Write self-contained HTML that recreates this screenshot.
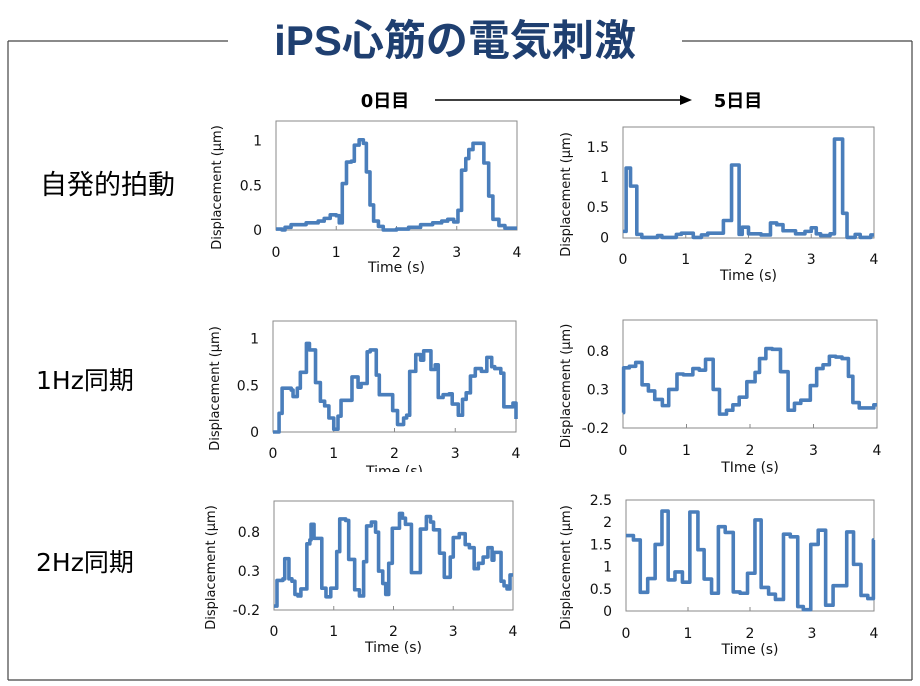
<!DOCTYPE html>
<html><head><meta charset="utf-8">
<style>
body{margin:0;background:#fff;width:920px;height:686px;overflow:hidden;font-family:"DejaVu Sans","Noto Sans CJK JP",sans-serif;}
svg{position:absolute;left:0;top:0}
</style></head>
<body>
<svg id="s" width="920" height="686">
  <line x1="8" y1="41" x2="228" y2="41" stroke="#444" stroke-width="1.2"/>
  <line x1="682" y1="41" x2="912" y2="41" stroke="#444" stroke-width="1.2"/>
  <line x1="8" y1="41" x2="8" y2="680" stroke="#444" stroke-width="1.2"/>
  <line x1="912" y1="41" x2="912" y2="680" stroke="#444" stroke-width="1.2"/>
  <line x1="8" y1="680" x2="912" y2="680" stroke="#444" stroke-width="1.2"/>
  <text x="455" y="55" text-anchor="middle" font-size="42" font-weight="bold" fill="#1f3f70" font-family="Liberation Sans, Noto Sans CJK JP, sans-serif">iPS心筋の電気刺激</text>
  <text x="385" y="107" text-anchor="middle" font-size="18" font-weight="bold">0日目</text>
  <line x1="435" y1="100" x2="682" y2="100" stroke="#000" stroke-width="1.5"/>
  <polygon points="692,100 680,95 680,105" fill="#000"/>
  <text x="738" y="107" text-anchor="middle" font-size="18" font-weight="bold">5日目</text>
  <text x="40" y="194" font-size="27">自発的拍動</text>
  <text x="36" y="389" font-size="25">1Hz同期</text>
  <text x="36" y="571" font-size="25">2Hz同期</text>
</svg>
<script>
// chart 1: spontaneous day 0
const c1T=[0,0.1,0.15,0.25,0.5,0.7,0.8,0.9,1.0,1.05,1.1,1.17,1.25,1.3,1.38,1.45,1.5,1.56,1.62,1.7,1.78,2.0,2.2,2.4,2.6,2.75,2.85,2.95,3.02,3.08,3.15,3.2,3.27,3.35,3.45,3.53,3.6,3.7,3.8,4.0];
const c1V=[0.01,0.0,0.03,0.06,0.08,0.1,0.13,0.17,0.16,0.08,0.52,0.76,0.77,0.95,1.01,0.97,0.65,0.28,0.1,0.04,0.0,0.01,0.03,0.06,0.08,0.1,0.12,0.09,0.22,0.67,0.8,0.9,0.97,0.97,0.75,0.38,0.12,0.05,0.02,0.02];
const c1Y=["0","0.5","1"];const c1Yv=[0,0.5,1];
// chart 2: spontaneous day 5
const c2T=[0,0.05,0.12,0.22,0.3,0.45,0.55,0.62,0.85,0.93,1.12,1.25,1.35,1.6,1.73,1.85,1.9,2.0,2.2,2.35,2.45,2.55,2.75,2.9,3.0,3.08,3.15,3.3,3.37,3.5,3.57,3.7,3.78,3.95,4.0];
const c2V=[0.1,1.15,0.85,0.05,0.0,0.0,0.03,0.0,0.05,0.07,0.0,0.04,0.07,0.28,1.2,0.05,0.17,0.06,0.04,0.24,0.21,0.11,0.06,0.1,0.16,0.06,0.03,0.06,1.63,0.4,0.0,0.05,0.0,0.04,0.04];
const c2Y=["0","0.5","1","1.5"];const c2Yv=[0,0.5,1,1.5];
// chart 3: 1Hz day 0
const c3T=[0,0.1,0.15,0.3,0.33,0.4,0.45,0.55,0.6,0.7,0.78,0.85,0.92,1.0,1.07,1.12,1.25,1.3,1.4,1.45,1.55,1.6,1.7,1.75,1.9,1.97,2.05,2.15,2.2,2.25,2.35,2.43,2.48,2.6,2.67,2.72,2.8,2.9,2.95,3.05,3.12,3.18,3.25,3.33,3.43,3.52,3.6,3.65,3.75,3.8,3.9,3.95,4.0];
const c3V=[0.0,0.2,0.47,0.45,0.38,0.47,0.64,0.95,0.88,0.53,0.33,0.28,0.15,0.03,0.17,0.34,0.34,0.59,0.48,0.52,0.86,0.88,0.61,0.4,0.4,0.23,0.08,0.15,0.18,0.65,0.83,0.77,0.87,0.67,0.72,0.37,0.4,0.41,0.3,0.18,0.35,0.42,0.6,0.68,0.65,0.8,0.7,0.68,0.63,0.27,0.27,0.31,0.14];
const c3Y=["0","0.5","1"];const c3Yv=[0,0.5,1];
// chart 4: 1Hz day 5
const c4T=[0,0.01,0.1,0.2,0.3,0.4,0.5,0.62,0.72,0.85,0.95,1.1,1.2,1.3,1.42,1.52,1.63,1.73,1.83,1.95,2.08,2.15,2.25,2.35,2.48,2.6,2.7,2.8,2.95,3.05,3.15,3.25,3.35,3.45,3.55,3.62,3.72,3.85,3.95,4.0];
const c4V=[0.0,0.58,0.6,0.65,0.36,0.28,0.17,0.09,0.3,0.5,0.49,0.57,0.55,0.69,0.3,-0.02,0.03,0.1,0.2,0.4,0.52,0.7,0.83,0.82,0.53,0.03,0.12,0.16,0.35,0.57,0.62,0.73,0.72,0.7,0.47,0.13,0.06,0.06,0.1,0.1];
const c4Y=["-0.2","0.3","0.8"];const c4Yv=[-0.2,0.3,0.8];
// chart 5: 2Hz day 0
const c5T=[0,0.05,0.15,0.18,0.25,0.3,0.35,0.4,0.45,0.55,0.6,0.62,0.67,0.8,0.87,0.95,1.05,1.1,1.2,1.25,1.35,1.43,1.5,1.55,1.63,1.7,1.75,1.82,1.87,1.92,1.98,2.1,2.15,2.2,2.3,2.4,2.45,2.55,2.62,2.67,2.77,2.85,2.95,3.0,3.1,3.2,3.27,3.35,3.42,3.5,3.58,3.65,3.68,3.75,3.8,3.85,3.9,3.95,4.0];
const c5V=[-0.15,0.18,0.2,0.46,0.2,0.17,0.0,-0.02,0.07,0.65,0.7,0.9,0.72,0.08,-0.03,0.08,0.55,0.97,0.95,0.45,0.06,-0.02,0.42,0.88,0.93,0.8,0.3,0.14,0.0,0.4,0.85,1.04,0.98,0.9,0.28,0.28,0.84,1.0,0.93,0.83,0.53,0.22,0.48,0.73,0.78,0.64,0.6,0.33,0.4,0.48,0.6,0.44,0.54,0.54,0.17,0.11,0.07,0.25,0.25];
const c5Y=["-0.2","0.3","0.8"];const c5Yv=[-0.2,0.3,0.8];
// chart 6: 2Hz day 5
const c6T=[0,0.12,0.23,0.35,0.47,0.58,0.68,0.79,0.91,1.03,1.16,1.26,1.38,1.49,1.6,1.73,1.84,1.96,2.08,2.18,2.3,2.41,2.54,2.65,2.77,2.86,2.98,3.1,3.22,3.34,3.56,3.67,3.79,3.9,3.99];
const c6V=[1.7,1.6,0.42,0.73,1.5,2.25,0.7,0.88,0.65,2.23,1.38,0.72,0.4,1.9,1.77,0.43,0.4,0.85,2.05,0.53,0.38,0.26,1.73,1.67,0.1,0.03,1.5,1.82,0.13,0.57,1.78,1.05,0.35,0.28,1.6];
const c6Y=["0","0.5","1","1.5","2","2.5"];const c6Yv=[0,0.5,1,1.5,2,2.5];
const xTicks=["0","1","2","3","4"];const xTickV=[0,1,2,3,4];

const NS="http://www.w3.org/2000/svg";const svg=document.getElementById('s');
function mk(tag,attrs,parent){const e=document.createElementNS(NS,tag);for(const k in attrs)e.setAttribute(k,attrs[k]);(parent||svg).appendChild(e);return e;}
function chart(name,box,ymin,ymax,T,V,yl,yv,xt,xlab,yTitleX,xtY,xlabY){
  const g=mk('g',{});
  
  
  const [x0,y0,x1,y1]=box;
  const sx=t=>x0+(t/4)*(x1-x0);
  const sy=v=>y1-(v-ymin)/(ymax-ymin)*(y1-y0);
  const r=mk('rect',{x:x0,y:y0,width:x1-x0,height:y1-y0,fill:'none',stroke:'#8a8a8a','stroke-width':1},g);
  
  
  xTickV.forEach((t,i)=>{
    const l=mk('line',{x1:sx(t),x2:sx(t),y1:y1,y2:y1-4,stroke:'#8a8a8a'},g);
    
    
    const tx=mk('text',{x:sx(t),y:xtY,'text-anchor':'middle','font-size':14,fill:'#111'},g);tx.textContent=xTicks[i];
    
    
  });
  yv.forEach((v,i)=>{
    const tx=mk('text',{x:x0-14,y:sy(v)+5,'text-anchor':'end','font-size':14,fill:'#111'},g);tx.textContent=yl[i];
    
    
  });
  let d='';
  T.forEach((t,i)=>{const x=sx(t),y=sy(V[i]);if(i===0)d+='M'+x+' '+y;else d+=' L'+x+' '+sy(V[i-1])+' L'+x+' '+y;});
  d+=' L'+x1+' '+sy(V[V.length-1]);
  const p=mk('path',{d:d,fill:'none',stroke:'#4a7ebb','stroke-width':3.6,'stroke-linejoin':'round'},g);
  
  
  const xt2=mk('text',{x:(x0+x1)/2,y:xlabY,'text-anchor':'middle','font-size':14,fill:'#111'},g);xt2.textContent=xlab;
  
  
  const cy=(y0+y1)/2+12;
  const yt=mk('text',{x:yTitleX,y:cy,'text-anchor':'middle','font-size':13,fill:'#111',transform:'rotate(-90 '+yTitleX+' '+cy+')'},g);yt.textContent='Displacement (µm)';
  
  
}
chart('chart-spontaneous-day0',[276,121,517,230],0,1.22,c1T,c1V,c1Y,c1Yv,xTicks,'Time (s)',221,257,272);
chart('chart-spontaneous-day5',[623,127,874,238],-0.01,1.83,c2T,c2V,c2Y,c2Yv,xTicks,'Time (s)',570,264,280);
chart('chart-1hz-day0',[273,321,516,432],0,1.19,c3T,c3V,c3Y,c3Yv,xTicks,'Time (s)',219,458,476);
chart('chart-1hz-day5',[623,320,877,428],-0.2,1.2,c4T,c4V,c4Y,c4Yv,xTicks,'TIme (s)',570,455,472);
chart('chart-2hz-day0',[274,501,513,610],-0.2,1.2,c5T,c5V,c5Y,c5Yv,xTicks,'Time (s)',215,636,652);
chart('chart-2hz-day5',[626,500,874,611],0,2.5,c6T,c6V,c6Y,c6Yv,xTicks,'Time (s)',570,638,654);
const cover=mk('rect',{x:330,y:472,width:150,height:8,fill:'#fff'});


</script>
</body></html>
